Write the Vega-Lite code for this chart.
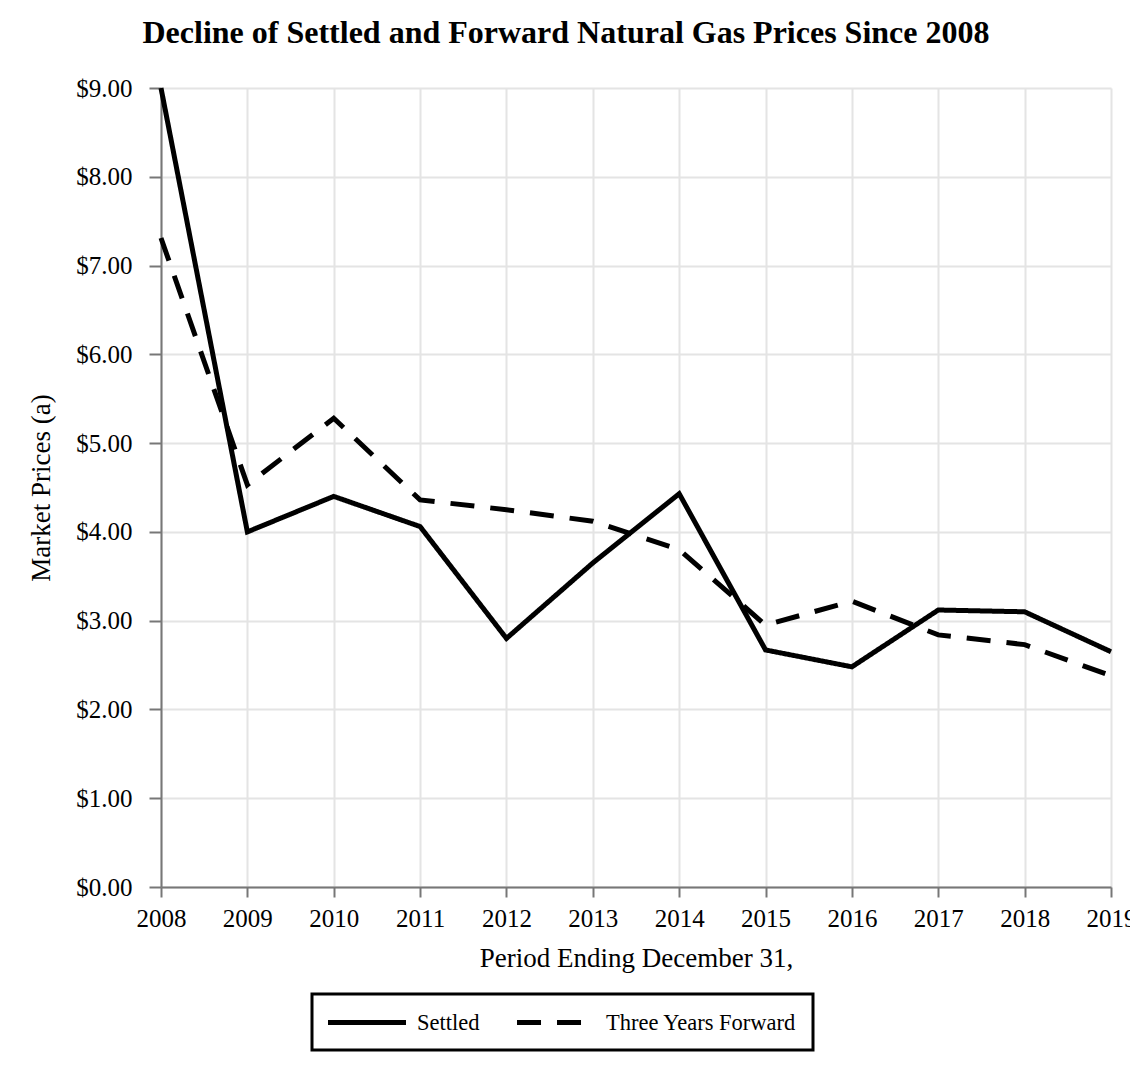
{
  "$schema": "https://vega.github.io/schema/vega-lite/v6.json",
  "width": 950,
  "height": 799,
  "autosize": {"type": "none"},
  "padding": {"left": 161, "top": 88, "right": 19, "bottom": 179},
  "background": "white",
  "title": {
    "text": "Decline of Settled and Forward Natural Gas Prices Since 2008",
    "font": "Liberation Serif",
    "fontSize": 32,
    "fontWeight": "bold",
    "color": "black",
    "offset": 26,
    "dx": -70,
    "anchor": "middle"
  },
  "config": {
    "font": "Liberation Serif",
    "view": {"stroke": null},
    "axis": {
      "labelFont": "Liberation Serif",
      "titleFont": "Liberation Serif",
      "labelFontSize": 25,
      "titleFontSize": 27,
      "titleFontWeight": "normal",
      "labelColor": "black",
      "titleColor": "black",
      "gridColor": "#e4e4e4",
      "gridWidth": 2,
      "domainColor": "#777777",
      "domainWidth": 2,
      "tickColor": "#777777",
      "tickWidth": 2
    },
    "legend": {
      "labelFont": "Liberation Serif",
      "labelFontSize": 22.5,
      "labelColor": "black",
      "labelLimit": 400,
      "strokeColor": "black",
      "padding": 16,
      "symbolType": "M-4,0H4",
      "symbolSize": 380,
      "symbolStrokeWidth": 5,
      "symbolStrokeColor": "black",
      "labelOffset": 12,
      "columnPadding": 27
    }
  },
  "data": {
    "values": [
      {"year": 2008, "series": "Settled", "price": 9.0},
      {"year": 2009, "series": "Settled", "price": 4.0},
      {"year": 2010, "series": "Settled", "price": 4.4},
      {"year": 2011, "series": "Settled", "price": 4.06},
      {"year": 2012, "series": "Settled", "price": 2.8},
      {"year": 2013, "series": "Settled", "price": 3.65},
      {"year": 2014, "series": "Settled", "price": 4.43},
      {"year": 2015, "series": "Settled", "price": 2.67},
      {"year": 2016, "series": "Settled", "price": 2.48},
      {"year": 2017, "series": "Settled", "price": 3.12},
      {"year": 2018, "series": "Settled", "price": 3.1},
      {"year": 2019, "series": "Settled", "price": 2.65},
      {"year": 2008, "series": "Three Years Forward", "price": 7.31},
      {"year": 2009, "series": "Three Years Forward", "price": 4.53},
      {"year": 2010, "series": "Three Years Forward", "price": 5.28},
      {"year": 2011, "series": "Three Years Forward", "price": 4.36},
      {"year": 2012, "series": "Three Years Forward", "price": 4.25},
      {"year": 2013, "series": "Three Years Forward", "price": 4.12},
      {"year": 2014, "series": "Three Years Forward", "price": 3.8},
      {"year": 2015, "series": "Three Years Forward", "price": 2.95},
      {"year": 2016, "series": "Three Years Forward", "price": 3.22},
      {"year": 2017, "series": "Three Years Forward", "price": 2.84},
      {"year": 2018, "series": "Three Years Forward", "price": 2.73},
      {"year": 2019, "series": "Three Years Forward", "price": 2.38}
    ]
  },
  "mark": {"type": "line", "strokeWidth": 5, "color": "black", "clip": false},
  "encoding": {
    "x": {
      "field": "year",
      "type": "quantitative",
      "scale": {"domain": [2008, 2019], "nice": false, "zero": false},
      "axis": {
        "values": [2008, 2009, 2010, 2011, 2012, 2013, 2014, 2015, 2016, 2017, 2018, 2019],
        "format": "d",
        "title": "Period Ending December 31,",
        "tickSize": 10,
        "labelPadding": 9,
        "titlePadding": 14,
        "labelOverlap": false,
        "labelFlush": false
      }
    },
    "y": {
      "field": "price",
      "type": "quantitative",
      "scale": {"domain": [0, 9], "nice": false},
      "axis": {
        "values": [0, 1, 2, 3, 4, 5, 6, 7, 8, 9],
        "format": "$.2f",
        "title": "Market Prices (a)",
        "tickSize": 12,
        "labelPadding": 17,
        "titlePadding": 20
      }
    },
    "strokeDash": {
      "field": "series",
      "type": "nominal",
      "scale": {"domain": ["Settled", "Three Years Forward"], "range": [[1, 0], [24, 16]]},
      "legend": {
        "title": null,
        "orient": "none",
        "direction": "horizontal",
        "legendX": 151,
        "legendY": 906,
        "labelOffset": 64,
        "encode": {
          "legend": {"update": {"strokeWidth": {"value": 3}, "stroke": {"value": "black"}}},
          "symbols": {"update": {"x": {"value": 39}}}
        }
      }
    }
  }
}
